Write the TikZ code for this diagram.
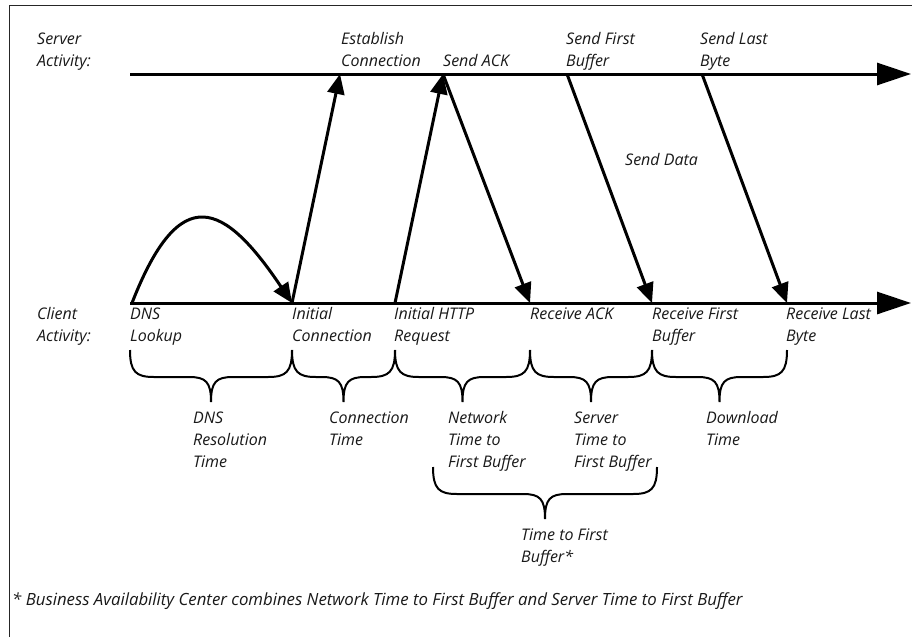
\documentclass[tikz,border=0pt]{standalone}
\usepackage{fontspec}
\setmainfont{Open Sans}
\usetikzlibrary{arrows.meta}
\newcommand\TBrace[3]{%
  \draw[bracestyle] (#1,#3) .. controls (#1,#3+22) and (#1+6,#3+27) .. (#1+24,#3+27)
    -- ({(#1+#2)/2-22},#3+27) .. controls ({(#1+#2)/2-5},#3+27) and ({(#1+#2)/2},#3+32) .. ({(#1+#2)/2},#3+52)
    .. controls ({(#1+#2)/2},#3+32) and ({(#1+#2)/2+5},#3+27) .. ({(#1+#2)/2+22},#3+27)
    -- (#2-24,#3+27) .. controls (#2-6,#3+27) and (#2,#3+22) .. (#2,#3);}
\begin{document}
\begin{tikzpicture}[x=1pt,y=-1pt,
  lbl/.style={font=\itshape\fontsize{16}{22}\selectfont, anchor=base west, inner sep=0pt, align=left, text=black!90},
  note/.style={lbl, font=\itshape\fontsize{16.8}{22}\selectfont},
  axis/.style={line width=3pt, -{Triangle[length=34pt,width=22pt]}},
  msg/.style={line width=3pt, -{Triangle[length=20pt,width=17pt]}},
  bracestyle/.style={line width=2pt},
  frame/.style={line width=1.3pt, black!85}]
\useasboundingbox (0,0) rectangle (912,637);
\fill[white] (0,0) rectangle (912,637);
\draw[frame] (9.5,637) -- (9.5,5.5) -- (912,5.5);
% time lines
\coordinate (s0) at (130,74);
\coordinate (s9) at (911,74);
\coordinate (c0) at (130,303);
\coordinate (c9) at (911,303);
\draw[axis] (s0) -- (s9);
\draw[axis] (c0) -- (c9);
% events
\coordinate (dns)  at (132,303);
\coordinate (ic)   at (292,303);
\coordinate (ihr)  at (395,303);
\coordinate (rack) at (530,303);
\coordinate (rfb)  at (652,303);
\coordinate (rlb)  at (787,303);
\coordinate (ec)   at (340,74);
\coordinate (sack) at (443,74);
\coordinate (sfb)  at (567,74);
\coordinate (slb)  at (702,74);
\draw[msg] (dns) .. controls (180,180) and (224,202) .. (ic);
\draw[msg] (ic) -- (ec);
\draw[msg] (ihr) -- (sack);
\draw[msg] (sack) -- (rack);
\draw[msg] (sfb) -- (rfb);
\draw[msg] (slb) -- (rlb);
% labels (base = baseline of last line)
\node[lbl] (srvlbl) at (37,66) {Server\\Activity:};
\node[lbl] (cltlbl) at (37,341) {Client\\Activity:};
\node[lbl] (ecl) at (341,66) {Establish\\Connection};
\node[lbl] (sackl) at (443,66) {Send ACK};
\node[lbl] (sfbl) at (566,66) {Send First\\Buffer};
\node[lbl] (slbl) at (700,66) {Send Last\\Byte};
\node[lbl] (sdata) at (625,165) {Send Data};
\node[lbl] (dnsl) at (130,341) {DNS\\Lookup};
\node[lbl] (icl) at (292,341) {Initial\\Connection};
\node[lbl] (ihrl) at (394,341) {Initial HTTP\\Request};
\node[lbl] (rackl) at (530,319) {Receive ACK};
\node[lbl] (rfbl) at (652,341) {Receive First\\Buffer};
\node[lbl] (rlbl) at (786,341) {Receive Last\\Byte};
% braces
\TBrace{130}{292}{350}
\TBrace{292}{395}{350}
\TBrace{395}{530}{350}
\TBrace{530}{652}{350}
\TBrace{652}{787}{350}
\TBrace{433}{657}{467}
\node[lbl] (dnst) at (193,467) {DNS\\Resolution\\Time};
\node[lbl] (cont) at (329,445) {Connection\\Time};
\node[lbl] (nett) at (448,467) {Network\\Time to\\First Buffer};
\node[lbl] (srvt) at (574,467) {Server\\Time to\\First Buffer};
\node[lbl] (dlt) at (706,445) {Download\\Time};
\node[lbl] (ttfb) at (521,562) {Time to First\\Buffer*};
\node[note] (fnote) at (12,605) {* Business Availability Center combines Network Time to First Buffer and Server Time to First Buffer};
\end{tikzpicture}
\end{document}
